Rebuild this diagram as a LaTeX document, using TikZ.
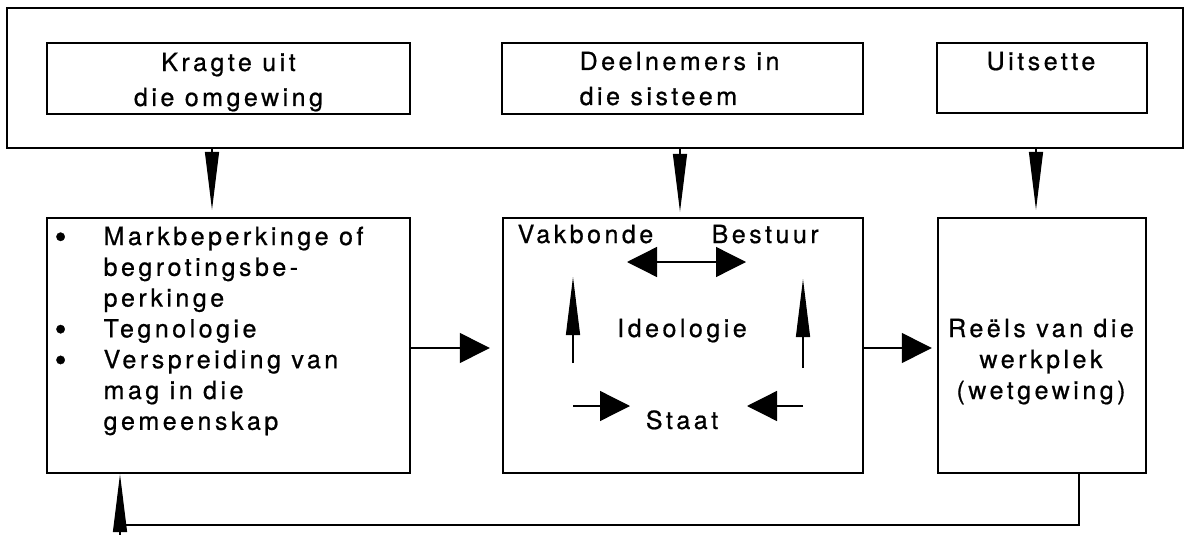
\documentclass[tikz,border=0pt]{standalone}
\usepackage{fontspec}
\setmainfont{TeX Gyre Heros}[LetterSpace=14,FakeBold=0.7]
\usetikzlibrary{arrows.meta}
\newcommand{\punt}{\hspace*{-2pt}\raisebox{-3.5pt}{\fontsize{34pt}{0pt}\selectfont\textbullet}}

\begin{document}
\begin{tikzpicture}[x=1pt,y=-1pt,line width=1.3pt]
\fontsize{25pt}{31pt}\selectfont
\tikzstyle{box}=[draw,line width=2.4pt,inner sep=0pt]
\tikzstyle{txt}=[inner sep=0pt,anchor=base]
\tikzstyle{toptxt}=[txt,font=\fontsize{25pt}{35pt}\selectfont]
\tikzstyle{thin}=[-{Triangle[length=58pt,width=14pt]}]
\tikzstyle{fat}=[-{Triangle[length=30pt,width=30pt]}]
\tikzstyle{fatboth}=[{Triangle[length=30pt,width=30pt]}-{Triangle[length=30pt,width=30pt]}]
	\useasboundingbox (0,0) rectangle (1184,535);

	\node[box,minimum width=1176pt,minimum height=140pt] (omgewing) at (595,78) {};
	\node[box,minimum width=363pt,minimum height=71pt] (kragte) at (228.5,78.5) {};
	\node[box,minimum width=361pt,minimum height=71pt] (deelnemers) at (682.5,78.5) {};
	\node[box,minimum width=210pt,minimum height=70pt] (uitsette) at (1042,78) {};

	\node[box,minimum width=363pt,minimum height=255pt] (markb) at (228.5,345.5) {};
	\node[box,minimum width=360pt,minimum height=255pt] (stelsel) at (683,345.5) {};
	\node[box,minimum width=208pt,minimum height=255pt] (reels) at (1042,345.5) {};

	\node[toptxt] (kragtetxt) at (228.5,71) {\begin{tabular}[t]{@{}c@{}}Kragte uit\\die omgewing\end{tabular}};
	\node[toptxt,anchor=base west] (deelnemerstxt) at (579,70) {\begin{tabular}[t]{@{}l@{}}Deelnemers in\\die sisteem\end{tabular}};
	\node[txt] (uitsettetxt) at (1041,70) {Uitsette};

	\node[txt,anchor=base west,font=\fontsize{25pt}{30.8pt}\selectfont] (punte) at (56,245) {\begin{tabular}[t]{@{}p{47pt}@{}l@{}}
		\punt & Markbeperkinge of\\
		& begrotingsbe-\\
		& perkinge\\
		\punt & Tegnologie\\
		\punt & Verspreiding van\\
		& mag in die\\
		& gemeenskap
	\end{tabular}};
	\node[txt,anchor=base west] (vakbonde) at (517,243) {Vakbonde};
	\node[txt,anchor=base west] (bestuur) at (711,243) {Bestuur};
	\node[txt] (ideologie) at (682,337) {Ideologie};
	\node[txt] (staat) at (682,429) {Staat};
	\node[txt] (reelstxt) at (1041,337) {\begin{tabular}[t]{@{}c@{}}Reëls van die\\werkplek\\(wetgewing)\end{tabular}};

	\draw[thin,shorten >=7pt] (212,0 |- omgewing.south) -- (212,0 |- markb.north);
	\draw[thin,shorten >=5pt] (680,0 |- omgewing.south) -- (680,0 |- stelsel.north);
	\draw[thin,shorten >=7pt] (1036,0 |- omgewing.south) -- (1036,0 |- reels.north);

	\draw[fat,shorten >=12pt] ([yshift=-2.5pt]markb.east) -- ([yshift=-2.5pt]stelsel.west);
	\draw[fat,shorten >=5pt] ([yshift=-2.5pt]stelsel.east) -- ([yshift=-2.5pt]reels.west);

	\coordinate (vb) at (627,262);
	\coordinate (bv) at (746,262);
	\coordinate (links) at (573,363);
	\coordinate (regs) at (803,368);
	\coordinate (onder) at (0,406);
	\draw[fatboth] (vb) -- (bv);
	\draw[thin] (links) -- (573,277);
	\draw[thin] (regs) -- (803,279);
	\draw[fat] (links |- onder) -- (630,406);
	\draw[fat] (regs |- onder) -- (747,406);

	\coordinate (terug) at (120,537);
	\draw ([xshift=37pt]reels.south) |- ([yshift=12pt]terug);
	\draw[thin] (terug) -- (terug |- markb.south);
\end{tikzpicture}
\end{document}
